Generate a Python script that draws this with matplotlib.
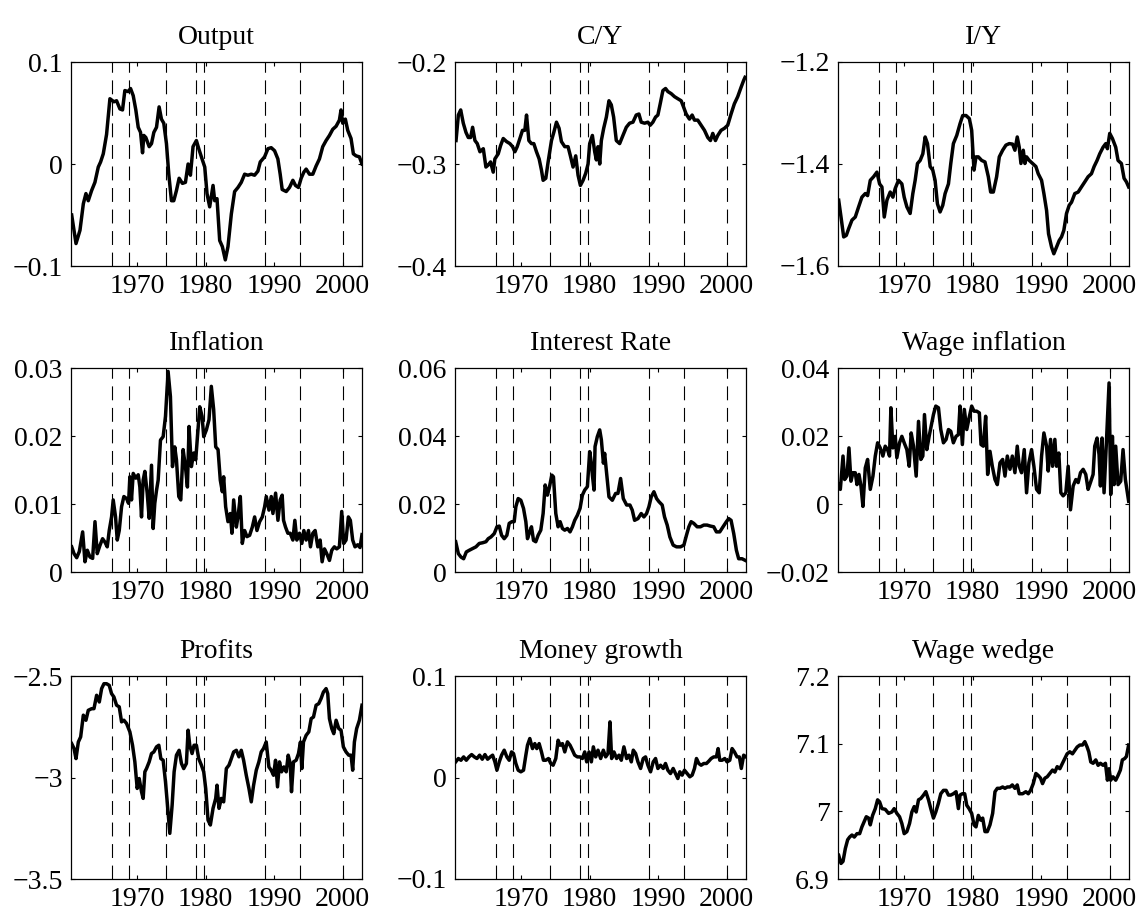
import numpy as np
import matplotlib
matplotlib.use("Agg")
import matplotlib.pyplot as plt

plt.rcParams['font.family'] = ['Liberation Serif', 'DejaVu Serif']
plt.rcParams['lines.scale_dashes'] = False

# dates of the vertical dashed markers
shock_dates = [1966.26, 1968.83, 1974.27, 1978.54, 1979.71, 1988.59, 1993.83, 2000.0]

# Output
output_t = [1960.44, 1961.07, 1961.65, 1962.14, 1962.52, 1962.86, 1963.35, 1963.83, 1964.32, 1964.66,
            1965.05, 1965.53, 1966.02, 1966.60, 1966.99, 1967.48, 1967.86, 1968.20, 1968.69, 1969.03,
            1969.42, 1969.80, 1970.15, 1970.49, 1970.78, 1970.97, 1971.26, 1971.75, 1972.09, 1972.43,
            1972.82, 1973.20, 1973.54, 1973.88, 1974.27, 1974.61, 1975.00, 1975.34, 1975.73, 1976.12,
            1976.60, 1977.04, 1977.43, 1977.77, 1978.15, 1978.64, 1979.03, 1979.37, 1979.86, 1980.19,
            1980.58, 1981.07, 1981.31, 1981.65, 1982.04, 1982.43, 1982.86, 1983.25, 1983.74, 1984.22,
            1984.71, 1985.19, 1985.68, 1986.16, 1986.65, 1987.13, 1987.62, 1987.96, 1988.59, 1989.08,
            1989.56, 1990.05, 1990.53, 1990.87, 1991.16, 1991.75, 1992.23, 1992.72, 1993.10, 1993.54,
            1993.93, 1994.32, 1994.66, 1995.14, 1995.63, 1996.11, 1996.60, 1997.08, 1997.57, 1998.06,
            1998.54, 1999.03, 1999.51, 1999.75, 2000.00, 2000.38, 2000.73, 2001.21, 2001.55, 2001.94,
            2002.43, 2002.81]
output_v = [-0.050, -0.078, -0.065, -0.039, -0.029, -0.036, -0.026, -0.018, -0.003, 0.002,
            0.010, 0.029, 0.064, 0.061, 0.062, 0.054, 0.053, 0.072, 0.071, 0.074,
            0.067, 0.053, 0.036, 0.031, 0.011, 0.028, 0.026, 0.017, 0.020, 0.031,
            0.036, 0.056, 0.044, 0.040, 0.020, -0.010, -0.036, -0.036, -0.026, -0.014,
            -0.019, -0.018, 0.000, -0.011, 0.017, 0.023, 0.014, 0.007, -0.003, -0.029,
            -0.042, -0.021, -0.036, -0.034, -0.075, -0.081, -0.094, -0.081, -0.049, -0.027,
            -0.023, -0.018, -0.010, -0.011, -0.010, -0.011, -0.007, 0.002, 0.007, 0.015,
            0.016, 0.013, 0.005, -0.010, -0.025, -0.027, -0.023, -0.016, -0.021, -0.023,
            -0.014, -0.008, -0.005, -0.010, -0.010, -0.002, 0.005, 0.017, 0.023, 0.028,
            0.034, 0.037, 0.043, 0.053, 0.040, 0.044, 0.033, 0.025, 0.010, 0.008,
            0.007, 0.000]

# C/Y
cy_t = [1960.49, 1960.83, 1961.17, 1961.55, 1961.94, 1962.28, 1962.62, 1962.91, 1963.25, 1963.59,
        1963.98, 1964.47, 1964.85, 1965.19, 1965.53, 1965.92, 1966.16, 1966.65, 1966.99, 1967.38,
        1967.86, 1968.35, 1968.74, 1969.08, 1969.42, 1969.81, 1970.19, 1970.53, 1970.78, 1971.12,
        1971.50, 1971.84, 1972.23, 1972.62, 1972.96, 1973.20, 1973.59, 1973.93, 1974.42, 1974.76,
        1975.15, 1975.53, 1975.87, 1976.36, 1976.84, 1977.18, 1977.57, 1977.96, 1978.30, 1978.64,
        1979.03, 1979.42, 1979.76, 1980.00, 1980.39, 1980.73, 1980.97, 1981.21, 1981.46, 1981.70,
        1982.04, 1982.43, 1982.81, 1983.15, 1983.49, 1983.88, 1984.37, 1984.85, 1985.34, 1985.82,
        1986.31, 1986.79, 1987.18, 1987.52, 1988.01, 1988.49, 1988.83, 1989.22, 1989.61, 1989.95,
        1990.29, 1990.68, 1991.07, 1991.41, 1991.89, 1992.38, 1992.86, 1993.35, 1993.69, 1994.08,
        1994.56, 1994.95, 1995.29, 1995.77, 1996.26, 1996.75, 1997.23, 1997.62, 1997.96, 1998.35,
        1998.69, 1999.17, 1999.66, 2000.14, 2000.63, 2001.11, 2001.60, 2002.08, 2002.47, 2002.67]
cy_v = [-0.277, -0.252, -0.247, -0.260, -0.269, -0.274, -0.274, -0.264, -0.277, -0.280,
        -0.288, -0.285, -0.303, -0.301, -0.298, -0.308, -0.295, -0.290, -0.282, -0.275,
        -0.278, -0.280, -0.283, -0.288, -0.283, -0.275, -0.267, -0.267, -0.252, -0.277,
        -0.280, -0.280, -0.288, -0.295, -0.306, -0.316, -0.314, -0.298, -0.277, -0.269,
        -0.259, -0.265, -0.278, -0.283, -0.283, -0.292, -0.303, -0.292, -0.311, -0.321,
        -0.316, -0.309, -0.300, -0.280, -0.272, -0.288, -0.296, -0.283, -0.300, -0.277,
        -0.265, -0.254, -0.238, -0.242, -0.254, -0.277, -0.280, -0.272, -0.264, -0.260,
        -0.259, -0.252, -0.251, -0.259, -0.260, -0.259, -0.262, -0.259, -0.254, -0.252,
        -0.241, -0.228, -0.226, -0.229, -0.231, -0.234, -0.236, -0.238, -0.244, -0.251,
        -0.256, -0.252, -0.257, -0.257, -0.262, -0.267, -0.274, -0.277, -0.270, -0.277,
        -0.272, -0.267, -0.265, -0.262, -0.251, -0.241, -0.234, -0.225, -0.218, -0.215]

# I/Y
iy_t = [1960.44, 1960.78, 1961.17, 1961.55, 1961.89, 1962.38, 1962.86, 1963.35, 1963.83, 1964.32,
        1964.66, 1965.05, 1965.53, 1966.02, 1966.41, 1966.75, 1967.09, 1967.48, 1967.96, 1968.35,
        1968.69, 1969.17, 1969.66, 1970.00, 1970.39, 1970.87, 1971.26, 1971.60, 1971.94, 1972.33,
        1972.72, 1973.06, 1973.40, 1973.79, 1974.17, 1974.51, 1974.85, 1975.24, 1975.63, 1975.97,
        1976.46, 1976.80, 1977.18, 1977.67, 1978.15, 1978.54, 1979.03, 1979.51, 1979.85, 1980.19,
        1980.48, 1980.82, 1981.31, 1981.79, 1982.28, 1982.62, 1983.01, 1983.49, 1983.88, 1984.37,
        1984.85, 1985.34, 1985.82, 1986.16, 1986.50, 1986.79, 1987.04, 1987.38, 1987.62, 1987.86,
        1988.25, 1988.74, 1989.22, 1989.56, 1990.05, 1990.39, 1990.78, 1991.07, 1991.51, 1991.84,
        1992.23, 1992.62, 1992.96, 1993.30, 1993.69, 1994.08, 1994.42, 1994.90, 1995.39, 1995.87,
        1996.36, 1996.84, 1997.33, 1997.72, 1998.15, 1998.54, 1999.03, 1999.42, 1999.66, 2000.00,
        2000.39, 2000.87, 2001.21, 2001.70, 2002.09, 2002.43, 2002.76]
iy_v = [-1.471, -1.504, -1.543, -1.540, -1.527, -1.510, -1.504, -1.484, -1.465, -1.458,
        -1.462, -1.432, -1.425, -1.416, -1.439, -1.445, -1.504, -1.471, -1.455, -1.465,
        -1.448, -1.432, -1.439, -1.465, -1.484, -1.497, -1.458, -1.432, -1.399, -1.393,
        -1.380, -1.347, -1.360, -1.405, -1.412, -1.432, -1.478, -1.494, -1.481, -1.458,
        -1.439, -1.399, -1.360, -1.344, -1.321, -1.305, -1.305, -1.311, -1.334, -1.412,
        -1.386, -1.386, -1.393, -1.396, -1.425, -1.455, -1.455, -1.425, -1.386, -1.373,
        -1.363, -1.360, -1.361, -1.373, -1.347, -1.367, -1.399, -1.373, -1.399, -1.386,
        -1.393, -1.399, -1.405, -1.419, -1.432, -1.458, -1.491, -1.537, -1.563, -1.576,
        -1.563, -1.550, -1.543, -1.530, -1.497, -1.481, -1.475, -1.458, -1.455, -1.445,
        -1.435, -1.425, -1.419, -1.405, -1.393, -1.380, -1.367, -1.360, -1.370, -1.340,
        -1.350, -1.367, -1.393, -1.399, -1.428, -1.435, -1.445]

# Inflation
infl_t = [1960.44, 1960.78, 1961.17, 1961.55, 1962.04, 1962.38, 1962.72, 1963.11, 1963.50, 1963.84,
          1964.17, 1964.56, 1964.95, 1965.29, 1965.63, 1965.92, 1966.26, 1966.50, 1966.84, 1967.09,
          1967.38, 1967.72, 1968.06, 1968.45, 1968.74, 1968.93, 1969.17, 1969.42, 1969.80, 1970.15,
          1970.39, 1970.63, 1970.87, 1971.12, 1971.46, 1971.75, 1972.09, 1972.33, 1972.57, 1972.82,
          1973.06, 1973.40, 1973.79, 1974.13, 1974.51, 1974.85, 1975.15, 1975.48, 1975.73, 1976.07,
          1976.36, 1976.70, 1977.04, 1977.33, 1977.57, 1977.91, 1978.25, 1978.54, 1978.88, 1979.13,
          1979.47, 1979.71, 1980.10, 1980.48, 1980.82, 1981.16, 1981.46, 1981.80, 1982.13, 1982.43,
          1982.62, 1982.91, 1983.25, 1983.59, 1983.83, 1984.08, 1984.47, 1984.71, 1985.05, 1985.34,
          1985.68, 1986.02, 1986.41, 1986.80, 1987.14, 1987.48, 1987.87, 1988.26, 1988.60, 1988.84,
          1989.23, 1989.57, 1989.81, 1990.20, 1990.54, 1990.87, 1991.16, 1991.36, 1991.65, 1991.99,
          1992.33, 1992.72, 1993.01, 1993.30, 1993.69, 1994.03, 1994.32, 1994.66, 1995.00, 1995.29,
          1995.63, 1995.97, 1996.36, 1996.70, 1996.99, 1997.33, 1997.67, 1998.06, 1998.40, 1998.78,
          1999.12, 1999.51, 1999.85, 2000.14, 2000.48, 2000.82, 2001.11, 2001.45, 2001.79, 2002.18,
          2002.52, 2002.81]
infl_v = [0.0037, 0.0027, 0.0021, 0.0030, 0.0059, 0.0015, 0.0032, 0.0022, 0.0020, 0.0074,
          0.0027, 0.0039, 0.0049, 0.0044, 0.0037, 0.0061, 0.0081, 0.0106, 0.0081, 0.0047,
          0.0061, 0.0096, 0.0111, 0.0108, 0.0101, 0.0140, 0.0106, 0.0145, 0.0138, 0.0143,
          0.0125, 0.0081, 0.0135, 0.0148, 0.0116, 0.0079, 0.0157, 0.0064, 0.0101, 0.0120,
          0.0135, 0.0194, 0.0199, 0.0229, 0.0295, 0.0258, 0.0155, 0.0184, 0.0165, 0.0111,
          0.0106, 0.0180, 0.0155, 0.0125, 0.0214, 0.0155, 0.0175, 0.0165, 0.0209, 0.0243,
          0.0229, 0.0199, 0.0209, 0.0224, 0.0273, 0.0239, 0.0184, 0.0180, 0.0135, 0.0118,
          0.0140, 0.0096, 0.0074, 0.0086, 0.0057, 0.0106, 0.0066, 0.0081, 0.0111, 0.0042,
          0.0061, 0.0052, 0.0054, 0.0066, 0.0081, 0.0061, 0.0074, 0.0081, 0.0096, 0.0111,
          0.0091, 0.0111, 0.0086, 0.0116, 0.0076, 0.0106, 0.0113, 0.0076, 0.0066, 0.0057,
          0.0057, 0.0047, 0.0076, 0.0047, 0.0057, 0.0042, 0.0061, 0.0047, 0.0061, 0.0037,
          0.0057, 0.0061, 0.0037, 0.0047, 0.0015, 0.0034, 0.0027, 0.0017, 0.0032, 0.0037,
          0.0034, 0.0037, 0.0089, 0.0042, 0.0047, 0.0081, 0.0076, 0.0047, 0.0037, 0.0040,
          0.0036, 0.0055]

# Interest rate
rate_t = [1960.44, 1960.83, 1961.21, 1961.60, 1961.99, 1962.43, 1962.91, 1963.40, 1963.88, 1964.37,
          1964.85, 1965.19, 1965.58, 1966.07, 1966.46, 1966.80, 1967.14, 1967.52, 1967.91, 1968.25,
          1968.64, 1968.98, 1969.22, 1969.56, 1969.95, 1970.34, 1970.68, 1970.92, 1971.16, 1971.50,
          1971.80, 1972.13, 1972.47, 1972.86, 1973.20, 1973.50, 1973.83, 1974.08, 1974.47, 1974.71,
          1975.05, 1975.39, 1975.68, 1976.02, 1976.36, 1976.75, 1977.13, 1977.48, 1977.81, 1978.20,
          1978.59, 1978.93, 1979.27, 1979.66, 1980.00, 1980.24, 1980.39, 1980.63, 1980.78, 1981.11,
          1981.46, 1981.70, 1982.00, 1982.18, 1982.47, 1982.81, 1983.30, 1983.78, 1984.12, 1984.51,
          1984.90, 1985.39, 1985.87, 1986.21, 1986.55, 1987.04, 1987.52, 1987.91, 1988.30, 1988.64,
          1988.98, 1989.37, 1989.76, 1990.10, 1990.58, 1990.92, 1991.31, 1991.70, 1992.18, 1992.67,
          1993.25, 1993.74, 1994.12, 1994.47, 1994.80, 1995.19, 1995.68, 1996.16, 1996.65, 1997.13,
          1997.62, 1998.10, 1998.49, 1998.98, 1999.46, 1999.95, 2000.29, 2000.63, 2001.02, 2001.41,
          2001.74, 2002.23, 2002.72]
rate_v = [0.0089, 0.0054, 0.0044, 0.0039, 0.0059, 0.0064, 0.0069, 0.0074, 0.0084, 0.0086,
          0.0089, 0.0098, 0.0103, 0.0113, 0.0133, 0.0135, 0.0108, 0.0098, 0.0108, 0.0143,
          0.0148, 0.0148, 0.0192, 0.0216, 0.0211, 0.0187, 0.0148, 0.0098, 0.0113, 0.0133,
          0.0093, 0.0089, 0.0108, 0.0123, 0.0172, 0.0256, 0.0226, 0.0246, 0.0285, 0.0280,
          0.0172, 0.0133, 0.0148, 0.0128, 0.0123, 0.0128, 0.0118, 0.0133, 0.0152, 0.0167,
          0.0187, 0.0226, 0.0241, 0.0251, 0.0354, 0.0320, 0.0285, 0.0241, 0.0369, 0.0398,
          0.0418, 0.0389, 0.0320, 0.0349, 0.0290, 0.0221, 0.0211, 0.0231, 0.0231, 0.0275,
          0.0216, 0.0197, 0.0197, 0.0182, 0.0152, 0.0157, 0.0172, 0.0162, 0.0172, 0.0192,
          0.0221, 0.0236, 0.0216, 0.0207, 0.0197, 0.0162, 0.0138, 0.0103, 0.0079, 0.0074,
          0.0074, 0.0079, 0.0108, 0.0133, 0.0148, 0.0143, 0.0133, 0.0133, 0.0138, 0.0138,
          0.0135, 0.0133, 0.0118, 0.0118, 0.0133, 0.0148, 0.0157, 0.0152, 0.0113, 0.0064,
          0.0039, 0.0039, 0.0034]

# Wage inflation
winf_t = [1960.44, 1960.68, 1961.07, 1961.31, 1961.65, 1961.94, 1962.23, 1962.52, 1962.86, 1963.11,
          1963.40, 1963.69, 1963.98, 1964.32, 1964.66, 1965.05, 1965.44, 1965.78, 1966.12, 1966.50,
          1966.89, 1967.23, 1967.57, 1967.86, 1968.06, 1968.35, 1968.69, 1968.93, 1969.32, 1969.66,
          1970.00, 1970.39, 1970.73, 1971.02, 1971.36, 1971.75, 1972.09, 1972.43, 1972.72, 1972.96,
          1973.30, 1973.64, 1973.93, 1974.27, 1974.61, 1975.00, 1975.34, 1975.73, 1976.12, 1976.46,
          1976.80, 1977.18, 1977.57, 1977.91, 1978.15, 1978.49, 1978.78, 1979.13, 1979.47, 1979.85,
          1980.19, 1980.58, 1980.97, 1981.21, 1981.55, 1981.89, 1982.18, 1982.52, 1982.86, 1983.25,
          1983.59, 1983.98, 1984.37, 1984.71, 1985.05, 1985.44, 1985.78, 1986.16, 1986.50, 1986.79,
          1987.13, 1987.52, 1987.86, 1988.20, 1988.59, 1988.93, 1989.32, 1989.71, 1990.05, 1990.39,
          1990.78, 1991.02, 1991.36, 1991.65, 1991.99, 1992.23, 1992.57, 1992.86, 1993.20, 1993.59,
          1993.93, 1994.27, 1994.66, 1995.05, 1995.39, 1995.73, 1996.12, 1996.50, 1996.84, 1997.18,
          1997.57, 1997.81, 1998.15, 1998.44, 1998.64, 1998.88, 1999.17, 1999.51, 1999.90, 2000.14,
          2000.39, 2000.63, 2000.87, 2001.21, 2001.60, 2001.94, 2002.28, 2002.76]
winf_v = [0.0057, 0.0043, 0.0141, 0.0072, 0.0082, 0.0165, 0.0067, 0.0092, 0.0092, 0.0057,
          0.0087, 0.0053, -0.0007, 0.0106, 0.0131, 0.0043, 0.0082, 0.0141, 0.0180, 0.0165,
          0.0141, 0.0170, 0.0160, 0.0141, 0.0283, 0.0165, 0.0199, 0.0136, 0.0180, 0.0199,
          0.0180, 0.0160, 0.0111, 0.0209, 0.0170, 0.0082, 0.0243, 0.0131, 0.0141, 0.0263,
          0.0160, 0.0199, 0.0229, 0.0263, 0.0288, 0.0283, 0.0219, 0.0180, 0.0190, 0.0219,
          0.0214, 0.0180, 0.0199, 0.0204, 0.0288, 0.0175, 0.0278, 0.0219, 0.0253, 0.0288,
          0.0273, 0.0273, 0.0268, 0.0175, 0.0170, 0.0258, 0.0087, 0.0155, 0.0111, 0.0072,
          0.0057, 0.0121, 0.0131, 0.0082, 0.0141, 0.0102, 0.0141, 0.0092, 0.0170, 0.0111,
          0.0092, 0.0160, 0.0033, 0.0121, 0.0160, 0.0111, 0.0043, 0.0033, 0.0141, 0.0209,
          0.0170, 0.0097, 0.0190, 0.0111, 0.0190, 0.0111, 0.0150, 0.0033, 0.0024, 0.0033,
          0.0111, -0.0017, 0.0053, 0.0072, 0.0063, 0.0092, 0.0102, 0.0087, 0.0043, 0.0063,
          0.0087, 0.0170, 0.0194, 0.0145, 0.0053, 0.0194, 0.0033, 0.0180, 0.0356, 0.0028,
          0.0199, 0.0057, 0.0170, 0.0057, 0.0067, 0.0160, 0.0072, 0.0008]

# Profits
prof_t = [1960.44, 1960.78, 1961.07, 1961.41, 1961.75, 1962.14, 1962.52, 1962.86, 1963.35, 1963.69,
          1964.08, 1964.47, 1964.81, 1965.15, 1965.53, 1965.92, 1966.26, 1966.60, 1966.99, 1967.38,
          1967.72, 1968.06, 1968.45, 1968.93, 1969.32, 1969.66, 1970.00, 1970.29, 1970.63, 1970.87,
          1971.12, 1971.36, 1971.75, 1972.09, 1972.43, 1972.82, 1973.16, 1973.45, 1973.79, 1974.13,
          1974.42, 1974.76, 1975.10, 1975.39, 1975.73, 1976.12, 1976.46, 1976.79, 1977.18, 1977.43,
          1977.67, 1978.01, 1978.30, 1978.64, 1978.98, 1979.37, 1979.71, 1980.00, 1980.34, 1980.68,
          1981.07, 1981.46, 1981.65, 1981.94, 1982.28, 1982.62, 1983.01, 1983.40, 1983.74, 1984.08,
          1984.47, 1984.85, 1985.19, 1985.53, 1985.92, 1986.31, 1986.65, 1986.99, 1987.38, 1987.76,
          1988.10, 1988.44, 1988.83, 1989.22, 1989.56, 1989.90, 1990.19, 1990.48, 1990.77, 1991.07,
          1991.41, 1991.75, 1992.04, 1992.33, 1992.52, 1992.81, 1993.20, 1993.54, 1993.83, 1994.03,
          1994.27, 1994.66, 1995.05, 1995.39, 1995.73, 1996.11, 1996.50, 1996.84, 1997.18, 1997.57,
          1997.81, 1998.06, 1998.40, 1998.69, 1999.03, 1999.42, 1999.75, 2000.09, 2000.48, 2000.87,
          2001.21, 2001.45, 2001.70, 2002.03, 2002.43, 2002.81]
prof_v = [-2.833, -2.857, -2.907, -2.825, -2.800, -2.693, -2.718, -2.669, -2.661, -2.661,
          -2.595, -2.628, -2.562, -2.538, -2.538, -2.546, -2.587, -2.603, -2.644, -2.652,
          -2.726, -2.718, -2.734, -2.775, -2.841, -2.923, -3.054, -3.005, -3.070, -3.103,
          -2.972, -2.956, -2.923, -2.882, -2.874, -2.849, -2.841, -2.907, -2.915, -3.021,
          -3.136, -3.275, -3.136, -2.972, -2.890, -2.866, -2.931, -2.956, -2.931, -2.767,
          -2.841, -2.882, -2.841, -2.841, -2.907, -2.939, -2.972, -3.054, -3.210, -3.234,
          -3.152, -3.103, -3.038, -3.152, -3.103, -3.120, -2.956, -2.939, -2.907, -2.874,
          -2.866, -2.898, -2.866, -2.915, -2.989, -3.054, -3.120, -3.038, -2.964, -2.923,
          -2.874, -2.857, -2.825, -2.948, -2.964, -2.989, -2.915, -3.046, -2.923, -2.972,
          -2.948, -2.972, -2.890, -2.931, -3.070, -2.923, -2.915, -2.882, -2.825, -2.956,
          -2.825, -2.792, -2.775, -2.710, -2.702, -2.644, -2.636, -2.611, -2.579, -2.562,
          -2.587, -2.710, -2.759, -2.784, -2.718, -2.759, -2.767, -2.849, -2.874, -2.890,
          -2.890, -2.964, -2.825, -2.759, -2.718, -2.644]

# Money growth
money_t = [1960.44, 1960.83, 1961.21, 1961.60, 1961.99, 1962.38, 1962.77, 1963.16, 1963.54, 1963.93,
           1964.32, 1964.71, 1965.10, 1965.49, 1965.83, 1966.16, 1966.46, 1966.80, 1967.14, 1967.52,
           1967.91, 1968.25, 1968.59, 1968.88, 1969.22, 1969.56, 1969.95, 1970.34, 1970.68, 1970.92,
           1971.26, 1971.65, 1971.99, 1972.28, 1972.62, 1972.96, 1973.25, 1973.59, 1973.98, 1974.32,
           1974.66, 1975.05, 1975.39, 1975.68, 1976.02, 1976.36, 1976.75, 1977.13, 1977.48, 1977.81,
           1978.20, 1978.59, 1978.93, 1979.27, 1979.56, 1979.90, 1980.24, 1980.53, 1980.87, 1981.21,
           1981.60, 1981.99, 1982.33, 1982.67, 1982.96, 1983.20, 1983.54, 1983.93, 1984.27, 1984.61,
           1984.99, 1985.39, 1985.73, 1986.07, 1986.36, 1986.70, 1987.04, 1987.43, 1987.81, 1988.15,
           1988.49, 1988.88, 1989.27, 1989.61, 1989.95, 1990.34, 1990.73, 1991.06, 1991.40, 1991.79,
           1992.18, 1992.52, 1992.86, 1993.15, 1993.49, 1993.83, 1994.22, 1994.61, 1994.95, 1995.29,
           1995.58, 1995.92, 1996.26, 1996.65, 1997.04, 1997.38, 1997.72, 1998.10, 1998.49, 1998.74,
           1998.98, 1999.32, 1999.71, 2000.05, 2000.44, 2000.78, 2001.12, 2001.50, 2001.84, 2002.13,
           2002.47, 2002.81]
money_v = [0.0154, 0.0187, 0.0170, 0.0203, 0.0170, 0.0203, 0.0226, 0.0203, 0.0187, 0.0220,
           0.0180, 0.0226, 0.0180, 0.0203, 0.0220, 0.0154, 0.0072, 0.0154, 0.0220, 0.0269,
           0.0203, 0.0170, 0.0252, 0.0236, 0.0138, 0.0072, 0.0056, 0.0072, 0.0220, 0.0318,
           0.0384, 0.0285, 0.0334, 0.0285, 0.0334, 0.0252, 0.0170, 0.0170, 0.0187, 0.0138,
           0.0121, 0.0187, 0.0367, 0.0318, 0.0334, 0.0252, 0.0351, 0.0318, 0.0269, 0.0220,
           0.0203, 0.0203, 0.0187, 0.0252, 0.0154, 0.0252, 0.0154, 0.0302, 0.0203, 0.0269,
           0.0187, 0.0269, 0.0203, 0.0236, 0.0548, 0.0187, 0.0252, 0.0187, 0.0220, 0.0170,
           0.0302, 0.0187, 0.0220, 0.0154, 0.0269, 0.0236, 0.0154, 0.0089, 0.0187, 0.0203,
           0.0121, 0.0056, 0.0154, 0.0187, 0.0089, 0.0121, 0.0089, 0.0138, 0.0072, 0.0039,
           0.0089, 0.0039, -0.0010, 0.0056, 0.0023, 0.0072, 0.0039, 0.0007, 0.0023, 0.0089,
           0.0187, 0.0138, 0.0121, 0.0138, 0.0138, 0.0161, 0.0187, 0.0203, 0.0203, 0.0285,
           0.0170, 0.0170, 0.0187, 0.0154, 0.0170, 0.0285, 0.0252, 0.0203, 0.0203, 0.0089,
           0.0220, 0.0203]

# Wage wedge
wedge_t = [1960.44, 1960.78, 1961.07, 1961.41, 1961.75, 1962.04, 1962.38, 1962.72, 1963.11, 1963.50,
           1963.83, 1964.17, 1964.47, 1964.81, 1965.05, 1965.39, 1965.78, 1966.12, 1966.41, 1966.75,
           1967.23, 1967.72, 1968.20, 1968.54, 1968.93, 1969.32, 1969.66, 1970.00, 1970.39, 1970.78,
           1971.12, 1971.46, 1971.75, 1972.09, 1972.43, 1972.82, 1973.16, 1973.55, 1973.88, 1974.27,
           1974.61, 1975.00, 1975.34, 1975.73, 1976.12, 1976.46, 1976.80, 1977.18, 1977.57, 1977.91,
           1978.15, 1978.49, 1978.83, 1979.13, 1979.47, 1979.85, 1980.19, 1980.48, 1980.82, 1981.16,
           1981.46, 1981.79, 1982.13, 1982.52, 1982.91, 1983.25, 1983.59, 1983.98, 1984.37, 1984.71,
           1985.05, 1985.44, 1985.78, 1986.16, 1986.50, 1986.79, 1987.28, 1987.76, 1988.11, 1988.45,
           1988.84, 1989.22, 1989.56, 1989.90, 1990.19, 1990.53, 1990.87, 1991.26, 1991.65, 1991.99,
           1992.33, 1992.72, 1993.10, 1993.44, 1993.78, 1994.17, 1994.56, 1994.90, 1995.24, 1995.63,
           1996.02, 1996.36, 1996.70, 1996.94, 1997.23, 1997.57, 1997.96, 1998.30, 1998.64, 1999.03,
           1999.37, 1999.66, 1999.90, 2000.14, 2000.48, 2000.87, 2001.21, 2001.55, 2001.84, 2002.18,
           2002.43, 2002.76]
wedge_v = [6.935, 6.923, 6.926, 6.945, 6.958, 6.962, 6.965, 6.962, 6.967, 6.967,
           6.977, 6.985, 6.992, 6.990, 6.980, 6.994, 7.004, 7.017, 7.014, 7.004,
           7.003, 6.997, 6.999, 7.004, 6.997, 6.992, 6.982, 6.967, 6.970, 6.982,
           6.999, 7.007, 6.999, 7.017, 7.019, 7.024, 7.029, 7.017, 7.004, 6.990,
           6.999, 7.012, 7.026, 7.031, 7.031, 7.024, 7.024, 7.026, 7.029, 7.004,
           7.024, 7.026, 7.026, 7.009, 7.004, 6.997, 6.980, 6.977, 6.994, 6.987,
           6.990, 6.970, 6.970, 6.980, 6.997, 7.029, 7.034, 7.034, 7.036, 7.034,
           7.036, 7.036, 7.039, 7.034, 7.039, 7.026, 7.026, 7.029, 7.026, 7.031,
           7.041, 7.056, 7.053, 7.049, 7.041, 7.049, 7.051, 7.056, 7.061, 7.058,
           7.066, 7.063, 7.071, 7.078, 7.085, 7.088, 7.085, 7.090, 7.095, 7.098,
           7.098, 7.103, 7.095, 7.088, 7.073, 7.071, 7.076, 7.068, 7.071, 7.068,
           7.071, 7.046, 7.063, 7.046, 7.051, 7.046, 7.053, 7.061, 7.076, 7.078,
           7.081, 7.098]

titles = ['Output', 'C/Y', 'I/Y', 'Inflation', 'Interest Rate', 'Wage inflation',
          'Profits', 'Money growth', 'Wage wedge']
series = [(output_t, output_v), (cy_t, cy_v), (iy_t, iy_v),
          (infl_t, infl_v), (rate_t, rate_v), (winf_t, winf_v),
          (prof_t, prof_v), (money_t, money_v), (wedge_t, wedge_v)]
yticks = [[-0.1, 0, 0.1], [-0.4, -0.3, -0.2], [-1.6, -1.4, -1.2],
          [0, 0.01, 0.02, 0.03], [0, 0.02, 0.04, 0.06], [-0.02, 0, 0.02, 0.04],
          [-3.5, -3, -2.5], [-0.1, 0, 0.1], [6.9, 7, 7.1, 7.2]]
ylabels = [['\u22120.1', '0', '0.1'], ['\u22120.4', '\u22120.3', '\u22120.2'],
           ['\u22121.6', '\u22121.4', '\u22121.2'], ['0', '0.01', '0.02', '0.03'],
           ['0', '0.02', '0.04', '0.06'], ['\u22120.02', '0', '0.02', '0.04'],
           ['\u22123.5', '\u22123', '\u22122.5'], ['\u22120.1', '0', '0.1'],
           ['6.9', '7', '7.1', '7.2']]
xticks = [1970, 1980, 1990, 2000]

fig = plt.figure(figsize=(11.4, 9.13), dpi=100)

# axes boxes in pixels (left, top, right, bottom)
col_x = [(71, 362), (455, 746), (838, 1129)]
row_y = [(62, 266), (368, 572), (676, 879)]
W, H = 1140.0, 913.0

for i in range(9):
    r, c = divmod(i, 3)
    x0, x1 = col_x[c]
    y0, y1 = row_y[r]
    ax = fig.add_axes([x0 / W, 1 - y1 / H, (x1 - x0) / W, (y1 - y0) / H])
    for d in shock_dates:
        ax.axvline(d, color='black', lw=0.8, dashes=(10, 5.5), zorder=1)
    t, v = series[i]
    ax.plot(t, v, color='black', lw=2.5, zorder=3, solid_joinstyle='round')
    ax.set_xlim(1960.34, 2002.81)
    yt = yticks[i]
    ax.set_ylim(yt[0], yt[-1])
    ax.set_yticks(yt)
    ax.set_yticklabels(ylabels[i])
    ax.set_xticks(xticks)
    ax.set_xticklabels([str(x) for x in xticks])
    ax.tick_params(direction='in', top=True, right=True, length=3, width=0.8,
                   labelsize=20, pad=6)
    for s in ax.spines.values():
        s.set_linewidth(0.9)
    ax.set_title(titles[i], fontsize=20, pad=13)

fig.savefig('out.png', dpi=100)
